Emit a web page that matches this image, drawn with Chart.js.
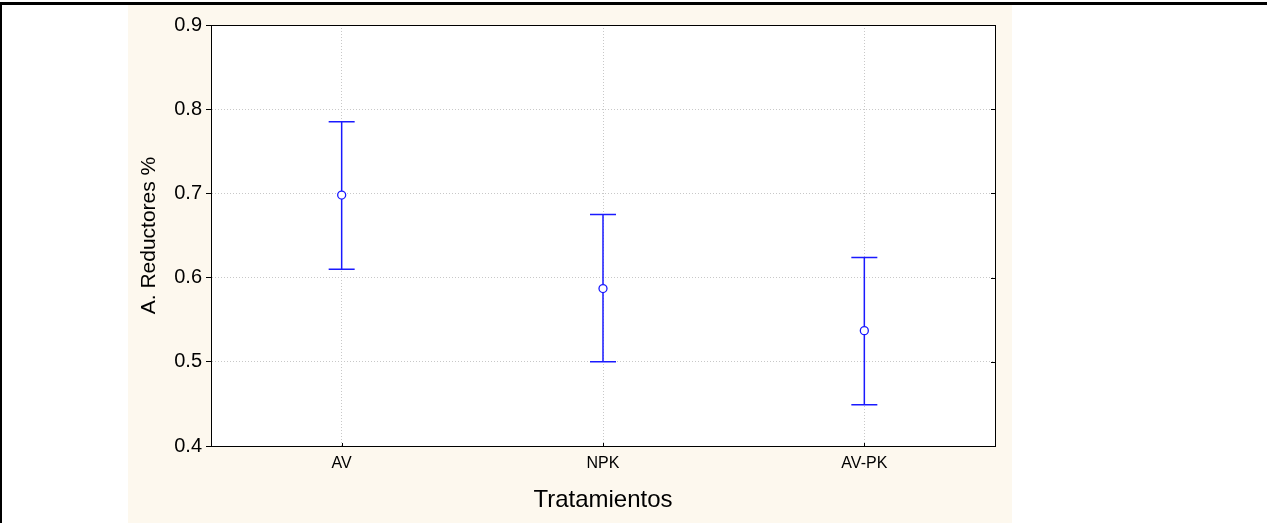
<!DOCTYPE html>
<html lang="es">
<head>
  <meta charset="UTF-8">
  <title>A. Reductores %</title>
  <script src="https://cdn.jsdelivr.net/npm/chart.js"></script>
  <style>
    html, body { margin: 0; padding: 0; background: #fff; }
    body { width: 1267px; height: 523px; position: relative; overflow: hidden; font-family: "Liberation Sans", Arial, sans-serif; }
    .frame { position: absolute; left: 0; top: 2px; width: 1267px; height: 521px; border-top: 3px solid #000; border-left: 2px solid #000; box-sizing: border-box; }
    .panel { position: absolute; left: 128px; top: 5px; width: 884px; height: 518px; background: #fdf8ee; }
  </style>
</head>
<body>
  <div class="frame"></div>
  <div class="panel"><canvas id="chart" width="884" height="518"></canvas></div>

  <script>
    const categories = ["AV", "NPK", "AV-PK"];
    const means = [0.698, 0.587, 0.537];
    const upper = [0.785, 0.675, 0.624];
    const lower = [0.610, 0.500, 0.449];
    const yTicks = [0.4, 0.5, 0.6, 0.7, 0.8, 0.9];

    const blue = "#1a1aff";

    // plot area: white fill behind, black frame + small inner ticks
    const framePlugin = {
      id: "frame",
      beforeDraw(chart) {
        const a = chart.chartArea, ctx = chart.ctx;
        ctx.save();
        ctx.fillStyle = "#fff";
        ctx.fillRect(a.left, a.top, a.right - a.left, a.bottom - a.top);
        ctx.restore();
      },
      afterDraw(chart) {
        const a = chart.chartArea, ctx = chart.ctx, x = chart.scales.x, y = chart.scales.y;
        ctx.save();
        ctx.strokeStyle = "#000";
        ctx.lineWidth = 1;
        ctx.strokeRect(Math.round(a.left) + 0.5, Math.round(a.top) + 0.5,
          Math.round(a.right - a.left), Math.round(a.bottom - a.top));
        ctx.beginPath();
        yTicks.forEach(v => {
          const py = Math.round(y.getPixelForValue(v)) + 0.5;
          ctx.moveTo(a.right, py);
          ctx.lineTo(a.right - 4, py);
        });
        categories.forEach((c, i) => {
          const px = Math.round(x.getPixelForValue(i)) + 0.5;
          ctx.moveTo(px, a.bottom);
          ctx.lineTo(px, a.bottom - 3);
        });
        ctx.stroke();
        ctx.restore();
      }
    };

    // whiskers drawn before the points so the hollow markers sit on top
    const errorBars = {
      id: "errorBars",
      beforeDatasetsDraw(chart) {
        const ctx = chart.ctx, x = chart.scales.x, y = chart.scales.y;
        ctx.save();
        ctx.strokeStyle = blue;
        ctx.lineWidth = 1.5;
        categories.forEach((c, i) => {
          const px = x.getPixelForValue(i);
          const top = y.getPixelForValue(upper[i]);
          const bot = y.getPixelForValue(lower[i]);
          ctx.beginPath();
          ctx.moveTo(px, top); ctx.lineTo(px, bot);
          ctx.moveTo(px - 13, top); ctx.lineTo(px + 13, top);
          ctx.moveTo(px - 13, bot); ctx.lineTo(px + 13, bot);
          ctx.stroke();
        });
        ctx.restore();
      }
    };

    new Chart(document.getElementById("chart").getContext("2d"), {
      type: "line",
      data: {
        labels: categories,
        datasets: [{
          data: means,
          showLine: false,
          pointStyle: "circle",
          pointRadius: 4,
          pointBorderWidth: 1.3,
          pointBorderColor: blue,
          pointBackgroundColor: "#fff"
        }]
      },
      options: {
        responsive: false,
        animation: false,
        events: [],
        layout: { padding: { top: 20, right: 17, left: 0, bottom: 0 } },
        plugins: { legend: { display: false }, tooltip: { enabled: false } },
        scales: {
          x: {
            type: "category",
            offset: true,
            afterFit(s) { s.height = 77; },
            grid: { offset: false, color: "#c8c8c8", drawTicks: false },
            border: { display: true, color: "#000", width: 1, dash: [1, 2] },
            ticks: { color: "#000", padding: 8, font: { family: "Liberation Sans", size: 16 } },
            title: {
              display: true, text: "Tratamientos", color: "#000",
              font: { family: "Liberation Sans", size: 24 },
              padding: { top: 0, bottom: 8 }
            }
          },
          y: {
            min: 0.4, max: 0.9,
            afterFit(s) { s.width = 83; },
            afterBuildTicks(s) { s.ticks = yTicks.map(v => ({ value: v })); },
            grid: { color: "#c8c8c8", tickColor: "#000", tickBorderDash: [], tickLength: 5 },
            border: { display: true, color: "#000", width: 1, dash: [1, 2] },
            ticks: {
              color: "#000", padding: 4,
              font: { family: "Liberation Sans", size: 20 },
              callback: v => v.toFixed(1)
            },
            title: {
              display: true, text: "A. Reductores %", color: "#000",
              font: { family: "Liberation Sans", size: 21 },
              padding: { top: 9, bottom: 0 }
            }
          }
        }
      },
      plugins: [framePlugin, errorBars]
    });
  </script>
</body>
</html>
